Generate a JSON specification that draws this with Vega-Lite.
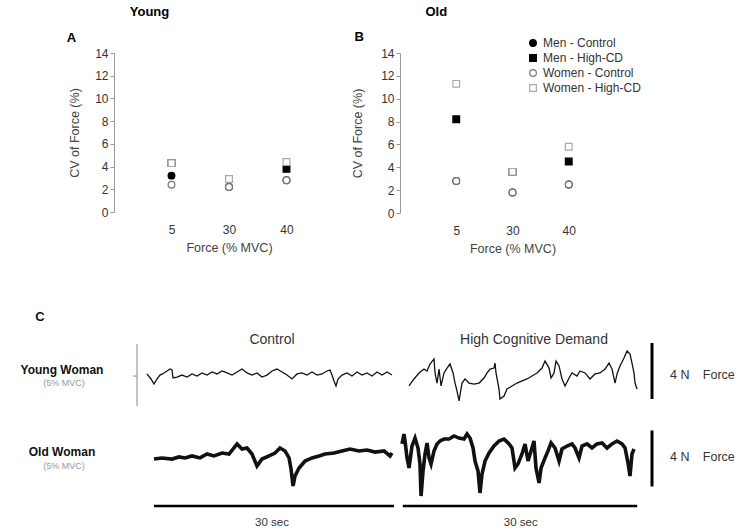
{
"$schema": "https://vega.github.io/schema/vega-lite/v6.json",
"padding": {"left": 20, "top": 5, "right": 0, "bottom": 0},
"config": {"view": {"stroke": null}, "font": "Liberation Sans",
  "axis": {"labelFont": "Liberation Sans", "titleFont": "Liberation Sans", "labelColor": "#333", "titleColor": "#444", "labelFontSize": 12, "titleFontSize": 12.5, "titleFontWeight": "normal", "domainColor": "#999", "tickColor": "#999", "tickSize": 4, "grid": false, "labelOverlap": false},
  "text": {"font": "Liberation Sans"}},
"datasets": {
"cv": [
{"age":"Young","force":"5","series":"Men - Control","cv":3.2},
{"age":"Young","force":"5","series":"Men - High-CD","cv":4.3},
{"age":"Young","force":"5","series":"Women - High-CD","cv":4.3},
{"age":"Young","force":"5","series":"Women - Control","cv":2.4},
{"age":"Young","force":"30","series":"Men - Control","cv":2.2},
{"age":"Young","force":"30","series":"Men - High-CD","cv":2.9},
{"age":"Young","force":"30","series":"Women - High-CD","cv":2.9},
{"age":"Young","force":"30","series":"Women - Control","cv":2.2},
{"age":"Young","force":"40","series":"Men - Control","cv":2.8},
{"age":"Young","force":"40","series":"Men - High-CD","cv":3.8},
{"age":"Young","force":"40","series":"Women - High-CD","cv":4.4},
{"age":"Young","force":"40","series":"Women - Control","cv":2.8},
{"age":"Old","force":"5","series":"Men - Control","cv":2.8},
{"age":"Old","force":"5","series":"Men - High-CD","cv":8.2},
{"age":"Old","force":"5","series":"Women - High-CD","cv":11.3},
{"age":"Old","force":"5","series":"Women - Control","cv":2.8},
{"age":"Old","force":"30","series":"Men - Control","cv":1.8},
{"age":"Old","force":"30","series":"Men - High-CD","cv":3.6},
{"age":"Old","force":"30","series":"Women - High-CD","cv":3.6},
{"age":"Old","force":"30","series":"Women - Control","cv":1.8},
{"age":"Old","force":"40","series":"Men - Control","cv":2.5},
{"age":"Old","force":"40","series":"Men - High-CD","cv":4.5},
{"age":"Old","force":"40","series":"Women - High-CD","cv":5.8},
{"age":"Old","force":"40","series":"Women - Control","cv":2.5}
],
"trace": [
{"subject":"Young","cond":"Control","t":-0.88,"force":11.29},{"subject":"Young","cond":"Control","t":-0.38,"force":10.93},{"subject":"Young","cond":"Control","t":0,"force":10.57},{"subject":"Young","cond":"Control","t":0.38,"force":10.93},{"subject":"Young","cond":"Control","t":0.75,"force":11.21},{"subject":"Young","cond":"Control","t":1.25,"force":11.36},{"subject":"Young","cond":"Control","t":1.63,"force":11.5},{"subject":"Young","cond":"Control","t":2.0,"force":11.64},{"subject":"Young","cond":"Control","t":2.25,"force":11.57},{"subject":"Young","cond":"Control","t":2.38,"force":11.0},{"subject":"Young","cond":"Control","t":2.88,"force":11.07},{"subject":"Young","cond":"Control","t":3.5,"force":11.21},{"subject":"Young","cond":"Control","t":4.13,"force":11.07},{"subject":"Young","cond":"Control","t":4.75,"force":11.29},{"subject":"Young","cond":"Control","t":5.38,"force":11.14},{"subject":"Young","cond":"Control","t":6.0,"force":11.36},{"subject":"Young","cond":"Control","t":6.63,"force":11.21},{"subject":"Young","cond":"Control","t":7.25,"force":11.43},{"subject":"Young","cond":"Control","t":7.88,"force":11.29},{"subject":"Young","cond":"Control","t":8.5,"force":11.5},{"subject":"Young","cond":"Control","t":9.13,"force":11.36},{"subject":"Young","cond":"Control","t":9.75,"force":11.21},{"subject":"Young","cond":"Control","t":10.38,"force":11.43},{"subject":"Young","cond":"Control","t":11.0,"force":11.64},{"subject":"Young","cond":"Control","t":11.63,"force":11.36},{"subject":"Young","cond":"Control","t":12.25,"force":11.21},{"subject":"Young","cond":"Control","t":12.88,"force":11.36},{"subject":"Young","cond":"Control","t":13.5,"force":11.07},{"subject":"Young","cond":"Control","t":14.13,"force":11.21},{"subject":"Young","cond":"Control","t":14.75,"force":11.5},{"subject":"Young","cond":"Control","t":15.38,"force":11.64},{"subject":"Young","cond":"Control","t":16.0,"force":11.43},{"subject":"Young","cond":"Control","t":16.63,"force":11.21},{"subject":"Young","cond":"Control","t":17.25,"force":10.93},{"subject":"Young","cond":"Control","t":17.88,"force":11.29},{"subject":"Young","cond":"Control","t":18.5,"force":11.36},{"subject":"Young","cond":"Control","t":19.13,"force":11.21},{"subject":"Young","cond":"Control","t":19.75,"force":11.43},{"subject":"Young","cond":"Control","t":20.38,"force":11.21},{"subject":"Young","cond":"Control","t":21.0,"force":11.29},{"subject":"Young","cond":"Control","t":21.63,"force":11.5},{"subject":"Young","cond":"Control","t":22.0,"force":11.57},{"subject":"Young","cond":"Control","t":22.25,"force":11.21},{"subject":"Young","cond":"Control","t":22.5,"force":10.79},{"subject":"Young","cond":"Control","t":22.75,"force":10.43},{"subject":"Young","cond":"Control","t":23.0,"force":10.93},{"subject":"Young","cond":"Control","t":23.5,"force":11.21},{"subject":"Young","cond":"Control","t":24.13,"force":11.36},{"subject":"Young","cond":"Control","t":24.75,"force":11.14},{"subject":"Young","cond":"Control","t":25.38,"force":11.43},{"subject":"Young","cond":"Control","t":26.0,"force":11.21},{"subject":"Young","cond":"Control","t":26.63,"force":11.36},{"subject":"Young","cond":"Control","t":27.25,"force":11.14},{"subject":"Young","cond":"Control","t":27.88,"force":11.43},{"subject":"Young","cond":"Control","t":28.5,"force":11.21},{"subject":"Young","cond":"Control","t":29.13,"force":11.43},{"subject":"Young","cond":"Control","t":29.75,"force":11.21},
{"subject":"Young","cond":"High","t":31.88,"force":10.43},{"subject":"Young","cond":"High","t":32.5,"force":10.93},{"subject":"Young","cond":"High","t":33.13,"force":11.36},{"subject":"Young","cond":"High","t":33.75,"force":11.64},{"subject":"Young","cond":"High","t":34.13,"force":11.5},{"subject":"Young","cond":"High","t":34.5,"force":12.0},{"subject":"Young","cond":"High","t":35.0,"force":12.36},{"subject":"Young","cond":"High","t":35.13,"force":11.36},{"subject":"Young","cond":"High","t":35.38,"force":10.64},{"subject":"Young","cond":"High","t":35.63,"force":11.64},{"subject":"Young","cond":"High","t":35.88,"force":10.43},{"subject":"Young","cond":"High","t":36.25,"force":11.36},{"subject":"Young","cond":"High","t":36.63,"force":11.71},{"subject":"Young","cond":"High","t":37.0,"force":12.0},{"subject":"Young","cond":"High","t":37.38,"force":11.36},{"subject":"Young","cond":"High","t":37.63,"force":10.64},{"subject":"Young","cond":"High","t":37.88,"force":10.07},{"subject":"Young","cond":"High","t":38.13,"force":9.36},{"subject":"Young","cond":"High","t":38.5,"force":10.64},{"subject":"Young","cond":"High","t":38.88,"force":10.93},{"subject":"Young","cond":"High","t":39.38,"force":10.64},{"subject":"Young","cond":"High","t":40.0,"force":10.57},{"subject":"Young","cond":"High","t":40.63,"force":10.64},{"subject":"Young","cond":"High","t":41.25,"force":11.0},{"subject":"Young","cond":"High","t":41.63,"force":11.36},{"subject":"Young","cond":"High","t":42.0,"force":11.64},{"subject":"Young","cond":"High","t":42.5,"force":11.71},{"subject":"Young","cond":"High","t":42.63,"force":12.07},{"subject":"Young","cond":"High","t":42.75,"force":11.36},{"subject":"Young","cond":"High","t":43.13,"force":10.21},{"subject":"Young","cond":"High","t":43.25,"force":9.5},{"subject":"Young","cond":"High","t":43.75,"force":9.71},{"subject":"Young","cond":"High","t":44.13,"force":10.21},{"subject":"Young","cond":"High","t":44.75,"force":10.43},{"subject":"Young","cond":"High","t":45.38,"force":10.64},{"subject":"Young","cond":"High","t":46.0,"force":10.79},{"subject":"Young","cond":"High","t":46.63,"force":10.93},{"subject":"Young","cond":"High","t":47.25,"force":11.14},{"subject":"Young","cond":"High","t":47.88,"force":11.36},{"subject":"Young","cond":"High","t":48.5,"force":11.71},{"subject":"Young","cond":"High","t":48.88,"force":12.21},{"subject":"Young","cond":"High","t":49.38,"force":11.71},{"subject":"Young","cond":"High","t":49.63,"force":11.0},{"subject":"Young","cond":"High","t":50.0,"force":11.36},{"subject":"Young","cond":"High","t":50.25,"force":12.21},{"subject":"Young","cond":"High","t":50.63,"force":11.86},{"subject":"Young","cond":"High","t":51.0,"force":10.93},{"subject":"Young","cond":"High","t":51.38,"force":10.43},{"subject":"Young","cond":"High","t":51.88,"force":11.0},{"subject":"Young","cond":"High","t":52.25,"force":11.36},{"subject":"Young","cond":"High","t":52.88,"force":11.14},{"subject":"Young","cond":"High","t":53.25,"force":11.5},{"subject":"Young","cond":"High","t":53.88,"force":11.36},{"subject":"Young","cond":"High","t":54.5,"force":10.93},{"subject":"Young","cond":"High","t":55.13,"force":11.29},{"subject":"Young","cond":"High","t":55.75,"force":11.36},{"subject":"Young","cond":"High","t":56.38,"force":11.64},{"subject":"Young","cond":"High","t":56.88,"force":12.07},{"subject":"Young","cond":"High","t":57.25,"force":11.64},{"subject":"Young","cond":"High","t":57.63,"force":10.64},{"subject":"Young","cond":"High","t":57.88,"force":11.29},{"subject":"Young","cond":"High","t":58.25,"force":11.86},{"subject":"Young","cond":"High","t":58.75,"force":12.43},{"subject":"Young","cond":"High","t":59.13,"force":12.93},{"subject":"Young","cond":"High","t":59.5,"force":12.71},{"subject":"Young","cond":"High","t":59.75,"force":12.07},{"subject":"Young","cond":"High","t":60.0,"force":11.36},{"subject":"Young","cond":"High","t":60.13,"force":10.64},{"subject":"Young","cond":"High","t":60.38,"force":10.21},
{"subject":"Old","cond":"Control","t":0,"force":5.21},{"subject":"Old","cond":"Control","t":1,"force":5.29},{"subject":"Old","cond":"Control","t":2.25,"force":5.21},{"subject":"Old","cond":"Control","t":3.13,"force":5.36},{"subject":"Old","cond":"Control","t":3.88,"force":5.29},{"subject":"Old","cond":"Control","t":4.75,"force":5.43},{"subject":"Old","cond":"Control","t":5.75,"force":5.29},{"subject":"Old","cond":"Control","t":6.63,"force":5.57},{"subject":"Old","cond":"Control","t":7.5,"force":5.43},{"subject":"Old","cond":"Control","t":8.5,"force":5.64},{"subject":"Old","cond":"Control","t":9.38,"force":5.57},{"subject":"Old","cond":"Control","t":10.38,"force":6.29},{"subject":"Old","cond":"Control","t":11.0,"force":5.93},{"subject":"Old","cond":"Control","t":11.63,"force":6.0},{"subject":"Old","cond":"Control","t":12.25,"force":5.57},{"subject":"Old","cond":"Control","t":12.88,"force":4.71},{"subject":"Old","cond":"Control","t":13.5,"force":5.21},{"subject":"Old","cond":"Control","t":14.38,"force":5.43},{"subject":"Old","cond":"Control","t":15.13,"force":5.64},{"subject":"Old","cond":"Control","t":15.75,"force":6.0},{"subject":"Old","cond":"Control","t":16.38,"force":5.79},{"subject":"Old","cond":"Control","t":16.88,"force":5.29},{"subject":"Old","cond":"Control","t":17.13,"force":4.5},{"subject":"Old","cond":"Control","t":17.38,"force":3.29},{"subject":"Old","cond":"Control","t":17.63,"force":4.0},{"subject":"Old","cond":"Control","t":18.13,"force":4.57},{"subject":"Old","cond":"Control","t":18.88,"force":5.07},{"subject":"Old","cond":"Control","t":19.75,"force":5.29},{"subject":"Old","cond":"Control","t":20.63,"force":5.43},{"subject":"Old","cond":"Control","t":21.38,"force":5.57},{"subject":"Old","cond":"Control","t":22.5,"force":5.64},{"subject":"Old","cond":"Control","t":23.5,"force":5.79},{"subject":"Old","cond":"Control","t":24.5,"force":5.93},{"subject":"Old","cond":"Control","t":25.63,"force":5.79},{"subject":"Old","cond":"Control","t":26.63,"force":5.86},{"subject":"Old","cond":"Control","t":27.63,"force":5.71},{"subject":"Old","cond":"Control","t":28.75,"force":5.79},{"subject":"Old","cond":"Control","t":29.5,"force":5.43},{"subject":"Old","cond":"Control","t":29.75,"force":5.64},
{"subject":"Old","cond":"High","t":31.0,"force":6.29},{"subject":"Old","cond":"High","t":31.25,"force":7.0},{"subject":"Old","cond":"High","t":31.38,"force":6.5},{"subject":"Old","cond":"High","t":31.63,"force":5.29},{"subject":"Old","cond":"High","t":31.88,"force":4.57},{"subject":"Old","cond":"High","t":32.25,"force":6.14},{"subject":"Old","cond":"High","t":32.63,"force":6.71},{"subject":"Old","cond":"High","t":33.0,"force":6.0},{"subject":"Old","cond":"High","t":33.25,"force":4.86},{"subject":"Old","cond":"High","t":33.38,"force":2.57},{"subject":"Old","cond":"High","t":33.63,"force":4.36},{"subject":"Old","cond":"High","t":33.88,"force":5.57},{"subject":"Old","cond":"High","t":34.13,"force":6.36},{"subject":"Old","cond":"High","t":34.38,"force":5.29},{"subject":"Old","cond":"High","t":34.63,"force":4.86},{"subject":"Old","cond":"High","t":35.0,"force":5.79},{"subject":"Old","cond":"High","t":35.38,"force":6.29},{"subject":"Old","cond":"High","t":35.75,"force":6.5},{"subject":"Old","cond":"High","t":36.25,"force":6.64},{"subject":"Old","cond":"High","t":36.88,"force":6.64},{"subject":"Old","cond":"High","t":37.5,"force":6.86},{"subject":"Old","cond":"High","t":38.13,"force":6.71},{"subject":"Old","cond":"High","t":38.75,"force":6.64},{"subject":"Old","cond":"High","t":39.13,"force":7.0},{"subject":"Old","cond":"High","t":39.5,"force":6.71},{"subject":"Old","cond":"High","t":39.88,"force":6.0},{"subject":"Old","cond":"High","t":40.13,"force":5.07},{"subject":"Old","cond":"High","t":40.5,"force":4.36},{"subject":"Old","cond":"High","t":40.75,"force":2.79},{"subject":"Old","cond":"High","t":41.0,"force":4.14},{"subject":"Old","cond":"High","t":41.38,"force":5.07},{"subject":"Old","cond":"High","t":41.88,"force":5.64},{"subject":"Old","cond":"High","t":42.5,"force":6.14},{"subject":"Old","cond":"High","t":43.13,"force":6.5},{"subject":"Old","cond":"High","t":43.75,"force":6.64},{"subject":"Old","cond":"High","t":44.38,"force":6.29},{"subject":"Old","cond":"High","t":44.75,"force":6.0},{"subject":"Old","cond":"High","t":45.13,"force":4.57},{"subject":"Old","cond":"High","t":45.5,"force":4.86},{"subject":"Old","cond":"High","t":46.0,"force":5.57},{"subject":"Old","cond":"High","t":46.38,"force":6.29},{"subject":"Old","cond":"High","t":46.75,"force":5.07},{"subject":"Old","cond":"High","t":47.13,"force":5.79},{"subject":"Old","cond":"High","t":47.5,"force":6.5},{"subject":"Old","cond":"High","t":47.75,"force":4.57},{"subject":"Old","cond":"High","t":48.13,"force":3.5},{"subject":"Old","cond":"High","t":48.38,"force":4.57},{"subject":"Old","cond":"High","t":48.88,"force":5.29},{"subject":"Old","cond":"High","t":49.25,"force":5.79},{"subject":"Old","cond":"High","t":49.63,"force":6.36},{"subject":"Old","cond":"High","t":50.13,"force":6.0},{"subject":"Old","cond":"High","t":50.63,"force":5.07},{"subject":"Old","cond":"High","t":51.0,"force":5.93},{"subject":"Old","cond":"High","t":51.63,"force":6.14},{"subject":"Old","cond":"High","t":52.25,"force":6.29},{"subject":"Old","cond":"High","t":52.63,"force":6.0},{"subject":"Old","cond":"High","t":53.13,"force":5.29},{"subject":"Old","cond":"High","t":53.5,"force":6.14},{"subject":"Old","cond":"High","t":54.13,"force":6.29},{"subject":"Old","cond":"High","t":54.75,"force":6.0},{"subject":"Old","cond":"High","t":55.38,"force":6.29},{"subject":"Old","cond":"High","t":56.0,"force":6.36},{"subject":"Old","cond":"High","t":56.63,"force":6.0},{"subject":"Old","cond":"High","t":57.25,"force":6.29},{"subject":"Old","cond":"High","t":57.88,"force":6.5},{"subject":"Old","cond":"High","t":58.5,"force":6.29},{"subject":"Old","cond":"High","t":58.88,"force":6.0},{"subject":"Old","cond":"High","t":59.25,"force":4.93},{"subject":"Old","cond":"High","t":59.5,"force":4.0},{"subject":"Old","cond":"High","t":59.75,"force":5.57},{"subject":"Old","cond":"High","t":60.0,"force":5.93}
]
},
"spacing": 32,
"vconcat": [
{
"spacing": 7,
"resolve": {"legend": {"shape": "independent", "fill": "independent", "stroke": "independent"}},
"hconcat": [
{
"width": 230, "height": 159,
"resolve": {"scale": {"x": "independent", "y": "independent"}},
"layer": [
{"data": {"name": "cv"}, "transform": [{"filter": "datum.age == 'Young'"}],
 "mark": {"type": "point", "filled": true, "size": 45, "strokeWidth": 1.2, "opacity": 1},
 "encoding": {
  "x": {"field": "force", "type": "ordinal", "sort": ["5","30","40"], "scale": {"type": "point", "padding": 1.0909}, "axis": {"title": "Force (% MVC)", "domain": false, "ticks": false, "labelAngle": 0, "labelPadding": 12, "titlePadding": 6}},
  "y": {"field": "cv", "type": "quantitative", "scale": {"domain": [0, 14], "nice": false}, "axis": {"title": "CV of Force (%)", "values": [0,2,4,6,8,10,12,14], "tickCount": 8, "labelOverlap": false, "titlePadding": 13, "labelColor": "#333"}},
  "shape": {"field": "series", "type": "nominal", "scale": {"domain": ["Men - Control","Men - High-CD","Women - Control","Women - High-CD"], "range": ["circle","square","circle","square"]}, "legend": null},
  "fill": {"field": "series", "type": "nominal", "scale": {"domain": ["Men - Control","Men - High-CD","Women - Control","Women - High-CD"], "range": ["#000000","#000000","#ffffff","#ffffff"]}, "legend": null},
  "stroke": {"field": "series", "type": "nominal", "scale": {"domain": ["Men - Control","Men - High-CD","Women - Control","Women - High-CD"], "range": ["#000000","#000000","#777777","#aaaaaa"]}, "legend": null}
 }},
{"data": {"values": [{"label": "Young"}]}, "mark": {"type": "text", "fontWeight": "bold", "fontSize": 13, "dx": -22},
 "encoding": {"x": {"datum": "5", "type": "ordinal", "scale": {"type": "point", "domain": ["5","30","40"], "padding": 1.0909}, "axis": null}, "y": {"datum": 17.6, "type": "quantitative", "scale": {"domain": [0, 14], "nice": false}, "axis": null}, "text": {"field": "label"}}},
{"data": {"values": [{"label": "A"}]}, "mark": {"type": "text", "fontWeight": "bold", "fontSize": 13, "dx": -100},
 "encoding": {"x": {"datum": "5", "type": "ordinal", "scale": {"type": "point", "domain": ["5","30","40"], "padding": 1.0909}, "axis": null}, "y": {"datum": 15.3, "type": "quantitative", "scale": {"domain": [0, 14], "nice": false}, "axis": null}, "text": {"field": "label"}}}
]
},
{
"width": 225, "height": 160,
"resolve": {"scale": {"x": "independent", "y": "independent"}},
"layer": [
{"data": {"name": "cv"}, "transform": [{"filter": "datum.age == 'Old'"}],
 "mark": {"type": "point", "filled": true, "size": 45, "strokeWidth": 1.2, "opacity": 1},
 "encoding": {
  "x": {"field": "force", "type": "ordinal", "sort": ["5","30","40"], "scale": {"type": "point", "padding": 1.027}, "axis": {"title": "Force (% MVC)", "domain": false, "ticks": false, "labelAngle": 0, "labelPadding": 12, "titlePadding": 6}},
  "y": {"field": "cv", "type": "quantitative", "scale": {"domain": [0, 14], "nice": false}, "axis": {"title": "CV of Force (%)", "values": [0,2,4,6,8,10,12,14], "tickCount": 8, "labelOverlap": false, "titlePadding": 16, "labelColor": "#333"}},
  "shape": {"field": "series", "type": "nominal", "scale": {"domain": ["Men - Control","Men - High-CD","Women - Control","Women - High-CD"], "range": ["circle","square","circle","square"]}, "legend": {"orient": "none", "legendX": 127, "legendY": -16, "title": null, "labelFontSize": 12, "labelColor": "#333", "symbolSize": 45, "rowPadding": 3, "symbolStrokeWidth": 1.2}},
  "fill": {"field": "series", "type": "nominal", "scale": {"domain": ["Men - Control","Men - High-CD","Women - Control","Women - High-CD"], "range": ["#000000","#000000","#ffffff","#ffffff"]}, "legend": {"orient": "none", "legendX": 127, "legendY": -16, "title": null, "labelFontSize": 12, "labelColor": "#333", "symbolSize": 45, "rowPadding": 3, "symbolStrokeWidth": 1.2}},
  "stroke": {"field": "series", "type": "nominal", "scale": {"domain": ["Men - Control","Men - High-CD","Women - Control","Women - High-CD"], "range": ["#000000","#000000","#777777","#aaaaaa"]}, "legend": {"orient": "none", "legendX": 127, "legendY": -16, "title": null, "labelFontSize": 12, "labelColor": "#333", "symbolSize": 45, "rowPadding": 3, "symbolStrokeWidth": 1.2}}
 }},
{"data": {"values": [{"label": "Old"}]}, "mark": {"type": "text", "fontWeight": "bold", "fontSize": 13, "dx": -20},
 "encoding": {"x": {"datum": "5", "type": "ordinal", "scale": {"type": "point", "domain": ["5","30","40"], "padding": 1.027}, "axis": null}, "y": {"datum": 17.6, "type": "quantitative", "scale": {"domain": [0, 14], "nice": false}, "axis": null}, "text": {"field": "label"}}},
{"data": {"values": [{"label": "B"}]}, "mark": {"type": "text", "fontWeight": "bold", "fontSize": 13, "dx": -97},
 "encoding": {"x": {"datum": "5", "type": "ordinal", "scale": {"type": "point", "domain": ["5","30","40"], "padding": 1.027}, "axis": null}, "y": {"datum": 15.4, "type": "quantitative", "scale": {"domain": [0, 14], "nice": false}, "axis": null}, "text": {"field": "label"}}}
]
}
]
},
{
"width": 632, "height": 245,
"layer": [
{"data": {"name": "trace"}, "transform": [{"filter": "datum.subject == 'Young'"}],
 "mark": {"type": "line", "color": "#111", "strokeWidth": 1.3},
 "encoding": {
  "x": {"field": "t", "type": "quantitative", "scale": {"domain": [-5, 74], "nice": false, "zero": false}, "axis": null},
  "y": {"field": "force", "type": "quantitative", "scale": {"domain": [0, 17.5], "nice": false, "zero": false}, "axis": null},
  "detail": {"field": "cond"}
 }},
{"data": {"name": "trace"}, "transform": [{"filter": "datum.subject == 'Old'"}],
 "mark": {"type": "line", "color": "#111", "strokeWidth": 3.6},
 "encoding": {"x": {"field": "t", "type": "quantitative"}, "y": {"field": "force", "type": "quantitative"}, "detail": {"field": "cond"}}},
{"data": {"values": [{"start": 0, "end": 30, "label": "30 sec"}, {"start": 31.1, "end": 60.4, "label": "30 sec"}]},
 "mark": {"type": "rule", "color": "#000", "strokeWidth": 2.5},
 "encoding": {"x": {"field": "start", "type": "quantitative"}, "x2": {"field": "end"}, "y": {"datum": 1.86}}},
{"data": {"values": [{"start": 0, "end": 30, "label": "30 sec"}, {"start": 31.1, "end": 60.4, "label": "30 sec"}]},
 "mark": {"type": "text", "fontSize": 11.5, "color": "#333", "dx": 118},
 "encoding": {"x": {"field": "start", "type": "quantitative"}, "y": {"datum": 0.64}, "text": {"field": "label"}}},
{"data": {"values": [{"label": "4 N"}]}, "mark": {"type": "rule", "color": "#000", "strokeWidth": 3},
 "encoding": {"x": {"datum": 62.25}, "y": {"datum": 9.5}, "y2": {"datum": 13.5}}},
{"data": {"values": [{"label": "4 N"}]}, "mark": {"type": "rule", "color": "#000", "strokeWidth": 3},
 "encoding": {"x": {"datum": 62.25}, "y": {"datum": 3.25}, "y2": {"datum": 7.25}}},
{"data": {"values": [{"label": "4 N"}]}, "mark": {"type": "text", "fontSize": 12.5, "color": "#333", "align": "left"},
 "encoding": {"x": {"datum": 64.5}, "y": {"datum": 11.21}, "text": {"field": "label"}}},
{"data": {"values": [{"label": "4 N"}]}, "mark": {"type": "text", "fontSize": 12.5, "color": "#333", "align": "left"},
 "encoding": {"x": {"datum": 64.5}, "y": {"datum": 5.36}, "text": {"field": "label"}}},
{"data": {"values": [{"label": "Force"}]}, "mark": {"type": "text", "fontSize": 12.5, "color": "#333", "align": "left"},
 "encoding": {"x": {"datum": 68.6}, "y": {"datum": 11.21}, "text": {"field": "label"}}},
{"data": {"values": [{"label": "Force"}]}, "mark": {"type": "text", "fontSize": 12.5, "color": "#333", "align": "left"},
 "encoding": {"x": {"datum": 68.6}, "y": {"datum": 5.36}, "text": {"field": "label"}}},
{"data": {"values": [{"label": "axis"}]}, "mark": {"type": "rule", "color": "#888", "strokeWidth": 1},
 "encoding": {"x": {"datum": -2.125}, "y": {"datum": 9.0}, "y2": {"datum": 13.43}}},
{"data": {"values": [{"label": "tick"}]}, "mark": {"type": "rule", "color": "#888", "strokeWidth": 1},
 "encoding": {"x": {"datum": -2.6}, "x2": {"datum": -2.125}, "y": {"datum": 11.14}}},
{"data": {"values": [{"label": "Control"}]}, "mark": {"type": "text", "fontSize": 14, "color": "#333"},
 "encoding": {"x": {"datum": 14.75}, "y": {"datum": 13.71}, "text": {"field": "label"}}},
{"data": {"values": [{"label": "High Cognitive Demand"}]}, "mark": {"type": "text", "fontSize": 14, "color": "#333"},
 "encoding": {"x": {"datum": 47.5}, "y": {"datum": 13.71}, "text": {"field": "label"}}},
{"data": {"values": [{"label": "Young Woman"}]}, "mark": {"type": "text", "fontSize": 12, "fontWeight": "bold", "color": "#111"},
 "encoding": {"x": {"datum": -11.5}, "y": {"datum": 11.57}, "text": {"field": "label"}}},
{"data": {"values": [{"label": "(5% MVC)"}]}, "mark": {"type": "text", "fontSize": 9, "color": "#999"},
 "encoding": {"x": {"datum": -11.25}, "y": {"datum": 10.64}, "text": {"field": "label"}}},
{"data": {"values": [{"label": "Old Woman"}]}, "mark": {"type": "text", "fontSize": 12, "fontWeight": "bold", "color": "#111"},
 "encoding": {"x": {"datum": -11.5}, "y": {"datum": 5.71}, "text": {"field": "label"}}},
{"data": {"values": [{"label": "(5% MVC)"}]}, "mark": {"type": "text", "fontSize": 9, "color": "#999"},
 "encoding": {"x": {"datum": -11.25}, "y": {"datum": 4.71}, "text": {"field": "label"}}},
{"data": {"values": [{"label": "C"}]}, "mark": {"type": "text", "fontSize": 13, "fontWeight": "bold", "color": "#111"},
 "encoding": {"x": {"datum": -14.25}, "y": {"datum": 15.36}, "text": {"field": "label"}}}
]
}
]
}
